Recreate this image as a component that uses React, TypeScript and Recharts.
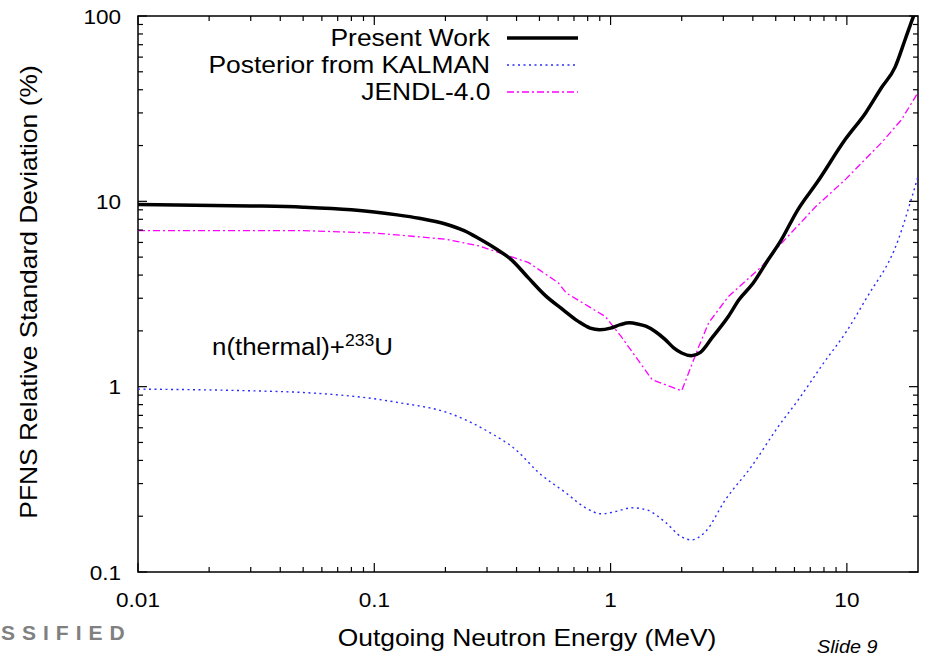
import React from 'react';
import { LineChart, Line, XAxis, YAxis, ReferenceArea } from 'recharts';

// Present Work (black, thick)
const presentWorkE = [
  0.01, 0.03, 0.05, 0.08, 0.1, 0.125, 0.155, 0.2, 0.24, 0.277, 0.327, 0.38, 0.45, 0.53,
  0.63, 0.73, 0.82, 0.9, 1.0, 1.1, 1.2, 1.3, 1.41, 1.55, 1.7, 1.85, 2.0, 2.2, 2.4, 2.7,
  3.15, 3.5, 4.0, 4.65, 5.2, 6.2, 7.5, 9.85, 12, 14, 16, 17.6, 19.1, 20,
];
const presentWorkSd = [
  9.6, 9.45, 9.3, 9.0, 8.75, 8.45, 8.1, 7.55, 6.95, 6.3, 5.55, 4.85, 3.85, 3.1,
  2.6, 2.25, 2.07, 2.03, 2.07, 2.16, 2.21, 2.18, 2.12, 1.98, 1.8, 1.62, 1.52, 1.47, 1.53, 1.85,
  2.39, 2.95, 3.6, 4.85, 6.0, 9.0, 12.7, 21.6, 30, 41, 53, 74, 99, 115,
];

// Posterior from KALMAN (blue, dotted)
const kalmanE = [
  0.01, 0.03, 0.05, 0.1, 0.127, 0.207, 0.305, 0.397, 0.496, 0.645, 0.784, 0.916, 1.05,
  1.23, 1.41, 1.71, 1.99, 2.2, 2.52, 3.06, 3.94, 5.13, 6.23, 8.0, 10, 12, 16.5, 18.7, 20,
];
const kalmanSd = [
  0.97, 0.95, 0.93, 0.86, 0.82, 0.72, 0.57, 0.457, 0.344, 0.268, 0.222, 0.206, 0.212,
  0.222, 0.217, 0.185, 0.155, 0.149, 0.165, 0.245, 0.37, 0.61, 0.85, 1.35, 2.0, 2.95, 6.2, 10.2, 13.6,
];

// JENDL-4.0 (magenta, dash-dot)
const jendlE = [
  0.01, 0.05, 0.1, 0.2, 0.277, 0.45, 0.6, 0.65, 0.95, 1.11, 1.5, 2.0, 2.36, 2.6, 3.15,
  4.35, 5.13, 7.37, 9.85, 14, 17, 20,
];
const jendlSd = [
  6.95, 6.95, 6.75, 6.25, 5.75, 4.67, 3.64, 3.2, 2.39, 1.86, 1.09, 0.95, 1.64, 2.21, 3.06,
  4.44, 5.7, 9.35, 13.1, 20.7, 27.5, 38.6,
];

const seriesNames = ['Present Work', 'Posterior from KALMAN', 'JENDL-4.0'];

const xMajorTicks = [0.01, 0.1, 1, 10];
const xMinorTicks = [
  0.02, 0.03, 0.04, 0.05, 0.06, 0.07, 0.08, 0.09,
  0.2, 0.3, 0.4, 0.5, 0.6, 0.7, 0.8, 0.9,
  2, 3, 4, 5, 6, 7, 8, 9,
];
const yMajorTicks = [0.1, 1, 10, 100];
const yMinorTicks = [
  0.2, 0.3, 0.4, 0.5, 0.6, 0.7, 0.8, 0.9,
  2, 3, 4, 5, 6, 7, 8, 9,
  20, 30, 40, 50, 60, 70, 80, 90,
];

const toPoints = (e: number[], sd: number[]) => e.map((v, i) => ({ e: v, sd: sd[i] }));

const presentWorkData = toPoints(presentWorkE, presentWorkSd);
const kalmanData = toPoints(kalmanE, kalmanSd);
const jendlData = toPoints(jendlE, jendlSd);

const PLOT_LEFT = 138;
const PLOT_RIGHT = 918;
const PLOT_TOP = 16;
const PLOT_BOTTOM = 572;
const FONT = '"Liberation Sans", Arial, Helvetica, sans-serif';
const SX = 1.1;

const XTick = (props: any) => {
  const { x, payload } = props;
  const major = xMajorTicks.includes(payload.value);
  const len = major ? 9 : 5;
  return (
    <g>
      <line x1={x} x2={x} y1={PLOT_BOTTOM} y2={PLOT_BOTTOM - len} stroke="#000" strokeWidth={1.2} />
      <line x1={x} x2={x} y1={PLOT_TOP} y2={PLOT_TOP + len} stroke="#000" strokeWidth={1.2} />
      {major && (
        <text
          transform={`translate(${x} 607) scale(${SX} 1)`}
          textAnchor="middle"
          fontFamily={FONT}
          fontSize={20.5}
          fill="#000"
        >
          {String(payload.value)}
        </text>
      )}
    </g>
  );
};

const YTick = (props: any) => {
  const { y, payload } = props;
  const major = yMajorTicks.includes(payload.value);
  const len = major ? 9 : 5;
  return (
    <g>
      <line x1={PLOT_LEFT} x2={PLOT_LEFT + len} y1={y} y2={y} stroke="#000" strokeWidth={1.2} />
      <line x1={PLOT_RIGHT} x2={PLOT_RIGHT - len} y1={y} y2={y} stroke="#000" strokeWidth={1.2} />
      {major && (
        <text
          transform={`translate(121 ${y + 7.5}) scale(${SX} 1)`}
          textAnchor="end"
          fontFamily={FONT}
          fontSize={20.5}
          fill="#000"
        >
          {String(payload.value)}
        </text>
      )}
    </g>
  );
};

const legendRows = [
  { name: seriesNames[0], color: '#000', width: 3.5, dash: undefined, y: 38 },
  { name: seriesNames[1], color: '#2b2bff', width: 1.4, dash: '2 3.5', y: 65 },
  { name: seriesNames[2], color: '#ff00ff', width: 1.3, dash: '7 3 2 3', y: 92 },
];

const text: React.CSSProperties = {
  position: 'absolute',
  fontFamily: FONT,
  lineHeight: 1,
  whiteSpace: 'nowrap',
  color: '#000',
};

const App = () => {
  return (
    <div style={{ position: 'absolute', left: 0, top: 0, width: 925, height: 658, background: '#fff', overflow: 'hidden' }}>
      <LineChart width={925} height={658} margin={{ top: 16, right: 7, bottom: 0, left: 0 }}>
        <XAxis
          dataKey="e"
          type="number"
          scale="log"
          domain={[0.01, 20]}
          allowDataOverflow
          ticks={[...xMajorTicks, ...xMinorTicks]}
          interval={0}
          tick={<XTick />}
          tickLine={false}
          axisLine={false}
          height={86}
        />
        <YAxis
          dataKey="sd"
          type="number"
          scale="log"
          domain={[0.1, 100]}
          allowDataOverflow
          ticks={[...yMajorTicks, ...yMinorTicks]}
          interval={0}
          tick={<YTick />}
          tickLine={false}
          axisLine={false}
          width={138}
        />
        <Line
          data={jendlData}
          dataKey="sd"
          name={seriesNames[2]}
          type="linear"
          stroke="#ff00ff"
          strokeWidth={1.3}
          strokeDasharray="7 3 2 3"
          dot={false}
          isAnimationActive={false}
        />
        <Line
          data={kalmanData}
          dataKey="sd"
          name={seriesNames[1]}
          type="monotone"
          stroke="#2b2bff"
          strokeWidth={1.4}
          strokeDasharray="2 3.5"
          dot={false}
          isAnimationActive={false}
        />
        <Line
          data={presentWorkData}
          dataKey="sd"
          name={seriesNames[0]}
          type="monotone"
          stroke="#000"
          strokeWidth={3.5}
          dot={false}
          isAnimationActive={false}
        />
        <ReferenceArea
          x1={0.01}
          x2={20}
          y1={0.1}
          y2={100}
          fill="#fff"
          fillOpacity={0}
          stroke="#000"
          strokeWidth={1.5}
          ifOverflow="visible"
        />
      </LineChart>

      {/* legend */}
      {legendRows.map((r) => (
        <React.Fragment key={r.name}>
          <div
            style={{
              ...text,
              fontSize: 24,
              right: 925 - 490,
              top: r.y - 12,
              transform: `scaleX(${SX})`,
              transformOrigin: 'right center',
            }}
          >
            {r.name}
          </div>
          <svg style={{ position: 'absolute', left: 507, top: r.y - 5 }} width={72} height={10}>
            <line x1={0} x2={71} y1={5} y2={5} stroke={r.color} strokeWidth={r.width} strokeDasharray={r.dash} />
          </svg>
        </React.Fragment>
      ))}

      {/* annotation */}
      <div
        style={{ ...text, fontSize: 23.5, left: 212, top: 336, transform: `scaleX(${SX})`, transformOrigin: 'left center' }}
      >
        n(thermal)+<span style={{ fontSize: 16, position: 'relative', top: -9 }}>233</span>U
      </div>

      {/* axis titles */}
      <div
        style={{ ...text, fontSize: 24, left: 527, top: 638, transform: `translate(-50%, -50%) scaleX(${SX})` }}
      >
        Outgoing Neutron Energy (MeV)
      </div>
      <div
        style={{ ...text, fontSize: 24, left: 29, top: 292, transform: `translate(-50%, -50%) rotate(-90deg) scaleX(${SX})` }}
      >
        PFNS Relative Standard Deviation (%)
      </div>

      {/* slide footer */}
      <div style={{ ...text, fontSize: 21, left: 1, top: 622, fontWeight: 'bold', color: '#808080', letterSpacing: 7 }}>
        SSIFIED
      </div>
      <div
        style={{ ...text, fontSize: 18, left: 817, top: 638, fontStyle: 'italic', transform: `scaleX(${SX})`, transformOrigin: 'left center' }}
      >
        Slide 9
      </div>
    </div>
  );
};

export default App;
